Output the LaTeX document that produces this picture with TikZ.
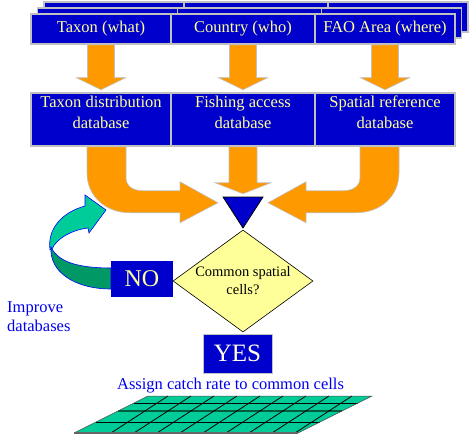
\documentclass[tikz,border=0pt]{standalone}
\usepackage{fontspec}
\setmainfont{Liberation Serif}
\usetikzlibrary{calc,shapes.geometric,backgrounds}
\definecolor{boxblue}{HTML}{0000CC}
\definecolor{boxgray}{HTML}{C0C0C0}
\definecolor{txtyellow}{HTML}{FFFF99}
\definecolor{dmdyellow}{HTML}{FFFF99}
\definecolor{arroworange}{HTML}{FF9900}
\definecolor{cellgreen}{HTML}{00CC99}
\definecolor{bandgreen}{HTML}{009966}
\definecolor{lblblue}{HTML}{0000EE}
\tikzset{
  keybox/.style={draw=boxgray, line width=1.5pt, fill=boxblue, minimum height=30pt,
    inner sep=0pt, text=txtyellow, font=\fontsize{16.5}{20}\selectfont},
  dbbox/.style={keybox, minimum height=53pt},
  dbtext/.style={text=txtyellow, align=center, inner sep=0pt, font=\fontsize{16.5}{21}\selectfont},
  orangearrow/.style={fill=arroworange, draw=boxgray, line width=0.6pt},
  decision/.style={diamond, draw=black, line width=0.6pt, fill=dmdyellow, aspect=1.37,
    minimum width=140pt, minimum height=102pt, inner sep=0pt, align=center,
    font=\fontsize{14.5}{18}\selectfont},
  answer/.style={fill=boxblue, inner sep=0pt, text=txtyellow, font=\fontsize{24}{24}\selectfont},
  bluelabel/.style={text=lblblue, inner sep=0pt, font=\fontsize{16.5}{19}\selectfont}
}

\begin{document}
\begin{tikzpicture}[x=1pt,y=-1pt]
\useasboundingbox (0,0) rectangle (472,436);
% Stacked key boxes:
\foreach \dx/\dy in {13/-12, 6.5/-6} {
  \draw[keybox] (31+\dx,14+\dy) rectangle (171+\dx,44+\dy);
  \draw[keybox] (171+\dx,14+\dy) rectangle (315+\dx,44+\dy);
  \draw[keybox] (315+\dx,14+\dy) rectangle (455+\dx,44+\dy);
}
\node (taxon) [keybox, minimum width=140pt] at (101,29) {Taxon (what)};
\node (country) [keybox, minimum width=144pt] at (243,29) {Country (who)};
\node (area) [keybox, minimum width=140pt] at (385,29) {FAO Area (where)};
% Databases:
\node (taxdb) [dbbox, minimum width=140pt] at (101,119.5) {};
\node (accessdb) [dbbox, minimum width=144pt] at (243,119.5) {};
\node (spatialdb) [dbbox, minimum width=140pt] at (385,119.5) {};
\node (taxdbtxt) [dbtext, yshift=7pt] at (taxdb) {Taxon distribution\\database};
\node (accessdbtxt) [dbtext, yshift=7pt] at (accessdb) {Fishing access\\database};
\node (spatialdbtxt) [dbtext, yshift=7pt] at (spatialdb) {Spatial reference\\database};
% Orange arrows:
\begin{pgfonlayer}{background}
\foreach \src in {taxon,country,area}
  \draw[orangearrow] ($(\src.south)+(-13.5,0)$) -- ++(0,33) -- ++(-11,0) -- ++(24.5,12)
    -- ++(24.5,-12) -- ++(-11,0) -- ++(0,-33) -- cycle;
\draw[orangearrow] ($(accessdb.south)+(-14,0)$) -- ++(0,36) -- ++(-14,0) -- ++(28,11)
  -- ++(28,-11) -- ++(-14,0) -- ++(0,-36) -- cycle;
\draw[orangearrow] ($(taxdb.south)+(-14,0)$) -- ++(0,26) .. controls +(0,24) and +(-24,0) .. ++(43,40)
  -- ++(50,0) -- ++(0,10) -- ++(38,-20) -- ++(-38,-21) -- ++(0,9) -- ++(-37,0)
  .. controls +(-9,0) and +(0,9) .. ++(-17,-13) -- ++(0,-31) -- cycle;
\draw[orangearrow] ($(spatialdb.south)+(14,0)$) -- ++(0,26) .. controls +(0,24) and +(24,0) .. ++(-43,40)
  -- ++(-50,0) -- ++(0,10) -- ++(-38,-20) -- ++(38,-21) -- ++(0,9) -- ++(37,0)
  .. controls +(9,0) and +(0,9) .. ++(17,-13) -- ++(0,-31) -- cycle;
\end{pgfonlayer}
% Merge point and decision:
\coordinate (merge) at (243,197);
\draw[fill=boxblue, line width=0.8pt] ($(merge)+(-20,0)$) -- ($(merge)+(20,0)$) -- ($(merge)+(0,31)$) -- cycle;
\node (common) [decision] at (243,281) {Common spatial\\cells?};
% Curled arrow back to the databases:
\draw[blue, fill=cellgreen, line width=0.6pt] (50,250) .. controls (47,228) and (63,212) .. (85,206)
  -- (85,195) -- (106,210) -- (89,233) -- (88,228) .. controls (72,230) and (57,238) .. (52,249) -- cycle;
\draw[blue, fill=bandgreen, line width=0.6pt] (111,268) .. controls (78,268) and (58,262) .. (51,247)
  .. controls (49,272) and (75,289) .. (111,289) -- cycle;
\node (no) [answer, minimum width=62pt, minimum height=36pt] at (142,279) {NO};
\node (yes) [answer, draw=boxgray, line width=1pt, text=white!80!txtyellow,
  minimum width=69pt, minimum height=39pt, font=\fontsize{25}{25}\selectfont] at (237.5,353.5) {YES};
\node (improve) [bluelabel, anchor=west, align=left] at (7,317) {Improve\\databases};
\node (assign) [bluelabel] at (230.5,386) {Assign catch rate to common cells};
% Cell grid:
\fill[cellgreen] (74,433) -- (298,433) -- (372,396) -- (148,396) -- cycle;
\foreach \yy in {403,422}
  \draw[black, line width=0.8pt] ({148-2*(\yy-396)},\yy) -- ({372-2*(\yy-396)},\yy);
\draw[bandgreen!60!black, line width=1.2pt] (118,411) -- (342,411);
\foreach \k in {0,...,8}
  \draw[black, line width=0.8pt] ({111+23*\k},433) -- ++(57,-37);
\draw[black!70, line width=0.5pt] (74,433) -- (148,396) -- (372,396) -- (298,433);
\draw[black!60, line width=1.5pt] (74,433) -- (298,433);
\end{tikzpicture}
\end{document}
